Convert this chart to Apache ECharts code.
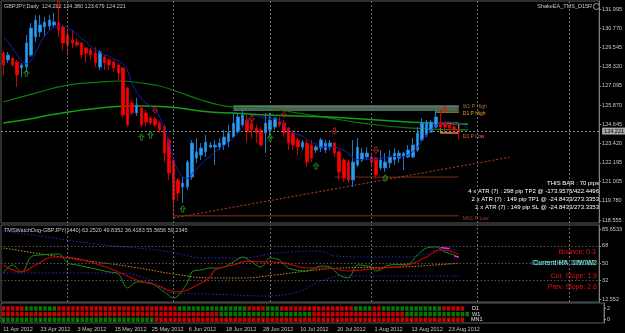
<!DOCTYPE html>
<html><head><meta charset="utf-8">
<script src="https://cdn.jsdelivr.net/npm/echarts@6/dist/echarts.min.js"></script>
<style>html,body{margin:0;padding:0;background:#000;overflow:hidden}#c{width:625px;height:333px}</style>
</head><body><div id="c"></div>
<script>
// ---------------- DATA ----------------
const MONTHS = ['Jan','Feb','Mar','Apr','May','Jun','Jul','Aug','Sep','Oct','Nov','Dec'];
const firstDay = [2012, 3, 11];       // 11 Apr 2012
const barCount = 130;                 // incl. empty right margin
const lastBar = 99;                   // 28 Aug 2012

const opens  = [129.19,128.75,128.87,128.62,128.24,128.30,129.06,130.21,130.53,130.85,130.91,130.98,131.10,130.85,130.34,130.02,129.89,129.83,129.51,129.38,129.19,128.30,128.94,128.75,128.62,128.43,128.24,126.96,126.01,125.37,125.69,125.37,125.05,124.99,124.73,124.48,123.65,122.38,121.10,120.66,120.66,121.29,122.50,122.69,122.89,123.20,123.20,123.20,123.33,123.52,123.84,124.16,124.61,124.92,124.73,124.41,124.29,124.10,124.29,124.48,124.80,124.73,124.41,124.10,123.65,123.20,123.46,123.33,123.01,123.14,123.01,123.20,123.46,122.89,122.38,122.25,121.10,122.06,122.38,122.57,122.57,122.50,121.87,121.87,122.19,122.38,122.50,122.57,122.57,122.57,123.01,123.65,123.97,124.16,124.48,124.80,124.73,124.61,124.48,124.282];
const highs  = [129.32,129.26,128.94,128.75,128.56,130.34,131.10,131.61,131.61,131.49,131.61,131.74,132.25,130.98,130.66,130.66,130.15,129.89,129.57,129.51,129.57,129.38,129.06,128.87,128.75,128.56,128.30,127.03,126.20,126.33,125.88,125.56,125.18,125.12,124.86,124.61,123.78,122.57,121.23,121.29,122.38,123.65,123.78,123.46,123.97,123.52,123.65,123.78,124.29,124.61,125.37,125.37,125.69,125.24,124.92,124.61,124.48,125.37,125.37,125.12,125.12,124.92,124.48,124.29,123.78,123.65,123.65,123.65,123.33,123.78,123.65,123.65,123.52,123.01,122.50,122.38,123.65,123.78,123.14,123.20,122.82,122.57,123.01,122.82,123.01,123.14,123.01,122.89,123.33,123.78,124.48,125.05,124.92,124.92,125.56,125.56,124.80,124.73,124.61,124.380];
const lows   = [127.79,128.56,128.30,127.03,127.66,127.98,128.94,129.89,130.21,130.21,130.66,130.85,130.21,129.38,129.06,129.51,129.57,128.87,128.56,128.75,128.30,128.11,128.11,128.11,127.98,127.47,125.05,124.48,125.24,125.18,124.48,124.54,124.61,124.48,124.10,122.25,121.10,118.68,119.76,119.64,120.47,121.10,122.19,122.38,122.57,123.14,122.06,123.01,123.01,123.20,123.78,124.10,124.48,123.52,123.78,123.46,123.20,122.82,123.84,124.29,124.48,123.84,123.01,123.01,122.69,123.01,121.93,122.25,122.82,122.89,122.82,123.01,122.57,121.10,120.98,120.91,120.66,121.93,122.25,122.38,122.06,121.23,121.74,121.61,121.87,122.06,122.19,121.74,122.50,122.50,122.89,123.52,123.84,124.10,124.41,124.41,124.16,124.16,124.10,123.679];
const closes = [128.43,129.06,128.43,127.79,128.43,129.83,130.78,131.29,130.98,131.17,131.29,131.17,130.66,129.83,129.70,129.83,129.70,129.06,129.19,129.06,128.56,129.26,128.56,128.43,128.24,127.92,125.24,124.61,125.37,125.88,124.61,124.80,124.73,124.61,124.29,122.82,121.55,119.83,120.27,120.91,122.25,123.46,122.89,123.14,123.52,123.33,123.33,123.46,123.84,124.10,124.73,125.12,125.24,124.16,124.29,124.10,123.33,124.73,124.92,125.05,124.61,124.10,123.46,123.33,123.20,123.52,122.25,122.50,123.20,123.65,123.46,123.46,122.82,121.61,121.23,121.10,122.25,123.20,122.82,122.82,122.25,121.42,122.38,122.25,122.57,122.82,122.82,122.82,123.01,123.33,124.10,124.73,124.80,124.80,125.12,124.48,124.48,124.41,124.29,124.221];

// blue short moving average (one value per bar, runs 2 bars past the last candle)
const maBlue = [130.2,129.9,129.5,129.1,128.7,128.5,128.7,129.2,129.8,130.3,130.6,130.8,130.9,130.9,130.8,130.6,130.4,130.1,129.9,129.6,129.4,129.2,129.1,129.0,128.8,128.7,128.5,128.1,127.2,126.7,126.3,126.0,125.8,125.6,125.1,124.4,123.5,122.4,121.7,121.3,121.2,121.5,121.8,122.1,122.4,122.6,122.9,123.1,123.3,123.5,123.8,124.1,124.5,124.9,125.2,125.2,125.1,125.1,125.0,125.0,124.9,124.6,124.3,124.1,124.0,123.9,123.7,123.5,123.4,123.2,123.2,123.2,123.2,123.1,123.0,122.8,122.5,122.4,122.4,122.4,122.4,122.4,122.5,122.5,122.6,122.6,122.6,122.6,122.7,122.9,123.2,123.6,124.0,124.3,124.6,124.7,124.8,124.8,124.7,124.7,124.6,124.4];
// long green averages, read at [bar, price]
const maGreenA = [[0,126.07],[7,126.64],[14,127.15],[21,127.34],[25,127.41],[30,127.28],[34,127.09],[38,126.71],[43,126.20],[47,125.88],[50,125.75],[57,125.69],[64,125.37],[71,125.05],[78,124.73],[88,124.42],[101,124.30]];
const maGreenB = [[0,124.73],[7,125.05],[10,125.24],[21,125.69],[30,125.82],[36,125.75],[45,125.43],[50,125.37],[57,125.24],[71,125.12],[88,124.80],[101,124.65]];

const trendLine = [[37,118.68],[110,122.55]];
const zoneW1High = [50, 99, 125.82, 125.50];     // from bar, to bar, top, bottom
const boxD1 = [95, 99, 124.73, 124.10];
const levelW1High = 125.82, levelD1High = 125.43, levelD1Low = 124.10, levelMN1Low = 118.82, levelW1Low = 121.29;
const bidPrice = 124.221;

const arrowsUp   = [[5,127.90],[30,123.84],[32,123.97],[39,119.26],[58,123.78],[68,121.99],[83,121.23]];
const arrowsDown = [[12,132.30],[33,125.56],[54,125.00],[61,125.31],[72,124.22],[81,123.01],[96,125.60]];

const priceTicks = [131.995,130.770,129.545,128.320,127.095,125.870,124.645,123.420,122.195,121.005,119.780,118.555];

// TMS WatchDog indicator, read at [bar, value]
const wdUpper = [[0,83.6],[10,77.0],[20,70.0],[35,62.7],[44,55.4],[52,55.4],[58,59.6],[62,61.6],[69,62.7],[72,57.5],[80,56.4],[87,56.4],[92,59.6],[94,63.7],[99,63.25]];
const wdLower = [[0,39.7],[25,39.7],[32,32.4],[37,18.8],[45,17.8],[57,15.7],[64,19.9],[68,29.3],[71,34.5],[73,36.6],[85,36.6],[99,36.42]];
const wdMid   = [[0,65.8],[14,55.4],[28,46.0],[37,38.7],[45,34.5],[52,34.5],[59,37.6],[66,41.8],[73,44.9],[87,46.0],[95,48.5],[99,49.84]];
const wdFast  = [[0,39.7],[2,48.1],[4,40.8],[6,56.4],[8,58.5],[12,59.6],[14,50.2],[16,48.1],[19,44.9],[23,40.8],[25,38.7],[27,24.1],[29,30.3],[32,29.3],[35,19.9],[37,13.6],[40,29.3],[41,40.8],[43,42.9],[45,44.9],[47,44.9],[50,51.2],[52,56.4],[54,51.2],[56,46.0],[58,55.4],[60,53.3],[62,44.9],[66,41.8],[69,47.0],[71,46.0],[73,37.6],[75,34.5],[77,48.1],[80,46.0],[81,41.8],[84,48.1],[88,49.1],[90,58.5],[92,65.8],[94,66.9],[96,61.6],[98,58.5],[99,55.57]];
const wdSlow  = [[0,48.1],[4,40.8],[7,48.1],[11,56.4],[15,55.4],[21,48.1],[25,40.8],[29,32.4],[33,27.2],[38,19.9],[40,22.0],[43,29.3],[45,35.5],[46,42.9],[50,48.1],[53,52.2],[57,51.2],[61,50.2],[66,44.9],[71,44.9],[75,41.8],[80,43.9],[85,46.0],[88,48.1],[92,56.4],[95,63.7],[97,62.7],[99,59.23]];
const wdMagentaA = [[95,66.3],[97,65.3]];
const wdMagentaB = [[98,57.6],[99,56.4]];
const wdLevels = [68, 50, 32];
const wdTicks = [85.6533, 68, 50, 32, 12.552];

// D1 / W1 / MN1 trend squares: g = up, r = down
const rowD1  = 'rrrrrgggggggrrrrrrrrrrrrrrrrrrrrrrrrrrgggggggggggggggrrrrgggrrrrrrrrrrrrrrrrggggrrgggggggggggggrrrrr';
const rowW1  = 'rrrrrrrrrrrrrrrrrrrrrrrrrrrrrrrrrrrrrrrrrrrrrrrggggggggggggggggggggrrrrrrrrrrrrrrrrrrrrgggggggggggggg';
const rowMN1 = 'gggggggggggggggggggggggggggggggggrrrrrrrrrrrrrrrrrrrrrrrrrrrrrrrrrrrrrrrrrrrrrrrrrrrrrrrrrrrrrrrrrrr';
const rowNames = ['D1','W1','MN1'];

// ---------------- BUILD ----------------
const dates = [];
const monthStarts = [];
{
  const d = new Date(Date.UTC(firstDay[0], firstDay[1], firstDay[2]));
  let prevMonth = d.getUTCMonth();
  while (dates.length < barCount) {
    const wd = d.getUTCDay();
    if (wd !== 0 && wd !== 6) {
      if (d.getUTCMonth() !== prevMonth) { monthStarts.push(dates.length); prevMonth = d.getUTCMonth(); }
      dates.push(d.getUTCDate() + ' ' + MONTHS[d.getUTCMonth()] + ' ' + d.getUTCFullYear());
    }
    d.setUTCDate(d.getUTCDate() + 1);
  }
}
const candles = opens.map((o, i) => [o, closes[i], lows[i], highs[i]]);
const squares = [];
[rowD1, rowW1, rowMN1].forEach((row, r) => {
  for (let i = 0; i < row.length; i++) {
    squares.push({ value: [i, 2 - r], itemStyle: { color: row[i] === 'g' ? '#009a00' : '#ff0000' } });
  }
});

const FONT = '"Liberation Sans", Arial, sans-serif';
const TXT = '#c8c8c8';
const sepLine = { symbol: 'none', silent: true, label: { show: false },
  lineStyle: { color: '#6a6a6a', type: [2, 2], width: 1 },
  data: monthStarts.map(i => ({ xAxis: i })) };

const xBase = (gi, show) => ({
  type: 'category', gridIndex: gi, data: dates, boundaryGap: true,
  axisLine: { show: false }, splitLine: { show: false },
  axisTick: { show: show, alignWithLabel: true, length: 2, lineStyle: { color: '#909090' },
    interval: (idx) => idx % 8 === 0 && idx <= lastBar },
  axisLabel: { show: show, color: TXT, fontSize: 5.5, fontFamily: FONT, align: 'left', margin: 3,
    interval: (idx) => idx % 8 === 0 && idx <= lastBar }
});
const yBase = (gi, min, max, ticks, fmt) => ({
  type: 'value', gridIndex: gi, position: 'right', min: min, max: max, scale: true,
  splitLine: { show: false },
  axisLine: { show: true, lineStyle: { color: '#808080' } },
  axisTick: { show: true, length: 2, lineStyle: { color: '#909090' }, customValues: ticks },
  axisLabel: { color: TXT, fontSize: 5.5, fontFamily: FONT, margin: 3, customValues: ticks, formatter: fmt }
});

const levelSeries = (name, data, color, label, labelColor, dy) => ({
  type: 'line', name: name, xAxisIndex: 0, yAxisIndex: 0, data: data, symbol: 'none', silent: true,
  lineStyle: { color: color, width: 1 }, z: 3,
  endLabel: label ? { show: true, formatter: label, color: labelColor, fontSize: 5, fontFamily: FONT, distance: 4, offset: [0, dy] } : { show: false }
});

const upArrow = 'path://M5,0 L10,5 L7,5 L7,11 L3,11 L3,5 L0,5 Z';
const downArrow = 'path://M3,0 L7,0 L7,6 L10,6 L5,11 L0,6 L3,6 Z';

const option = {
  backgroundColor: '#000',
  animation: false,
  grid: [
    { left: 1, right: 21, top: 1, height: 222, show: true, borderColor: '#5a5a5a', borderWidth: 1, backgroundColor: '#000' },
    { left: 1, right: 21, top: 225, height: 77, show: true, borderColor: '#5a5a5a', borderWidth: 1, backgroundColor: '#000' },
    { left: 1, right: 21, top: 303, height: 20, show: true, borderColor: '#5a5a5a', borderWidth: 1, backgroundColor: '#000' }
  ],
  xAxis: [xBase(0, false), xBase(1, false), xBase(2, true)],
  yAxis: [
    yBase(0, 118.364, 132.505, priceTicks, v => v.toFixed(3)),
    yBase(1, 9.419, 89.83, wdTicks, v => String(v)),
    yBase(2, -0.59, 2.98, [0, 2], v => String(v))
  ],
  series: [
    { type: 'line', name: 'MA long A', xAxisIndex: 0, yAxisIndex: 0, data: maGreenA, smooth: 0.5, symbol: 'none', lineStyle: { color: '#0a7d0a', width: 1.2 }, z: 2 },
    { type: 'line', name: 'MA long B', xAxisIndex: 0, yAxisIndex: 0, data: maGreenB, smooth: 0.5, symbol: 'none', lineStyle: { color: '#12a012', width: 1.5 }, z: 2 },
    levelSeries('W1 P Low', [[72, levelW1Low], [lastBar, levelW1Low]], '#7a2a1a', null),
    levelSeries('MN1 P Low', [[37, levelMN1Low], [lastBar, levelMN1Low]], '#8a2c1c', 'MN1 P Low', '#a0402a', 3),
    levelSeries('W1 P High', [[50, levelW1High], [lastBar, levelW1High]], '#7f9a88', 'W1 P High', '#b06a3a', 1),
    levelSeries('D1 P High', [[94, levelD1High], [lastBar, levelD1High]], '#d8c830', 'D1 P High', '#e0a030', 2),
    levelSeries('D1 P Low', [[95, levelD1Low], [lastBar, levelD1Low]], '#e07a50', 'D1 P Low', '#e07040', 4),
    { type: 'line', name: 'trend', xAxisIndex: 0, yAxisIndex: 0, data: trendLine, symbol: 'none', silent: true, lineStyle: { color: '#c0401c', width: 1, type: [2, 2] }, z: 3 },
    {
      type: 'candlestick', name: 'GBPJPY', xAxisIndex: 0, yAxisIndex: 0, data: candles, barWidth: 3, z: 4,
      itemStyle: { color: '#2c9fe8', color0: '#ff0000', borderColor: '#1a78c8', borderColor0: '#d00000', borderWidth: 1 },
      markArea: { silent: true, data: [
        [{ xAxis: zoneW1High[0], yAxis: zoneW1High[2], itemStyle: { color: '#4f6c5c', opacity: 0.95 } }, { xAxis: zoneW1High[1], yAxis: zoneW1High[3] }],
        [{ xAxis: boxD1[0], yAxis: boxD1[2], itemStyle: { color: 'rgba(0,0,0,0)', borderColor: '#e9967a', borderWidth: 1 } }, { xAxis: boxD1[1], yAxis: boxD1[3] }]
      ] },
      markLine: { symbol: 'none', silent: true, data: [
        ...monthStarts.map(i => ({ xAxis: i, label: { show: false }, lineStyle: { color: '#6a6a6a', type: [2, 2], width: 1 } })),
        { yAxis: bidPrice, lineStyle: { color: '#8a8a8a', type: [2, 2], width: 1 },
          label: { show: true, position: 'end', formatter: bidPrice.toFixed(3), color: '#000', backgroundColor: '#a8a8a8', fontSize: 5.5, fontFamily: FONT, padding: [1, 2, 0, 2], distance: 3 } }
      ] }
    },
    { type: 'line', name: 'MA blue', xAxisIndex: 0, yAxisIndex: 0, data: maBlue, smooth: 0.3, symbol: 'none', lineStyle: { color: '#1c1cb4', width: 1 }, z: 5 },
    { type: 'scatter', name: 'up', xAxisIndex: 0, yAxisIndex: 0, data: arrowsUp, symbol: upArrow, symbolSize: [5, 6], z: 6,
      itemStyle: { color: 'rgba(0,0,0,0)', borderColor: '#1f9a1f', borderWidth: 1 } },
    { type: 'scatter', name: 'down', xAxisIndex: 0, yAxisIndex: 0, data: arrowsDown, symbol: downArrow, symbolSize: [5, 6], z: 6,
      itemStyle: { color: 'rgba(0,0,0,0)', borderColor: '#c02020', borderWidth: 1 } },

    // WatchDog panel
    { type: 'line', name: 'upper', xAxisIndex: 1, yAxisIndex: 1, data: wdUpper, smooth: 0.4, symbol: 'none', lineStyle: { color: '#2a2ad0', width: 1, type: [1.5, 2] },
      markLine: { symbol: 'none', silent: true, label: { show: false }, lineStyle: { color: '#555', type: [1.5, 2], width: 1 },
        data: [...wdLevels.map(v => ({ yAxis: v })), ...monthStarts.map(i => ({ xAxis: i, lineStyle: { color: '#6a6a6a', type: [2, 2] } }))] } },
    { type: 'line', name: 'lower', xAxisIndex: 1, yAxisIndex: 1, data: wdLower, smooth: 0.4, symbol: 'none', lineStyle: { color: '#2a2ad0', width: 1, type: [1.5, 2] } },
    { type: 'line', name: 'mid', xAxisIndex: 1, yAxisIndex: 1, data: wdMid, smooth: 0.4, symbol: 'none', lineStyle: { color: '#d08a30', width: 1, type: [1.5, 1.5] } },
    { type: 'line', name: 'fast', xAxisIndex: 1, yAxisIndex: 1, data: wdFast, smooth: 0.35, symbol: 'none', lineStyle: { color: '#1a8c1a', width: 1 } },
    { type: 'line', name: 'slow', xAxisIndex: 1, yAxisIndex: 1, data: wdSlow, smooth: 0.4, symbol: 'none', lineStyle: { color: '#c40000', width: 1.2 } },
    { type: 'line', name: 'magA', xAxisIndex: 1, yAxisIndex: 1, data: wdMagentaA, symbol: 'none', lineStyle: { color: '#ff30ff', width: 1.3 } },
    { type: 'line', name: 'magB', xAxisIndex: 1, yAxisIndex: 1, data: wdMagentaB, symbol: 'none', lineStyle: { color: '#ff30ff', width: 1.3 } },

    // trend squares
    { type: 'scatter', name: 'rows', xAxisIndex: 2, yAxisIndex: 2, data: squares, symbol: 'rect', symbolSize: [3.4, 4.4], silent: true }
  ],
  graphic: [
    { type: 'text', x: 4, y: 6, style: { text: 'GBPJPY,Daily  124.282 124.380 123.679 124.221', fill: TXT, font: '5.5px ' + FONT, verticalAlign: 'middle' } },
    { type: 'text', x: 592, y: 6, style: { text: 'ShakeEA_TMS_D15R', fill: TXT, font: '5.5px ' + FONT, align: 'right', verticalAlign: 'middle' } },
    { type: 'circle', shape: { cx: 596.5, cy: 6.5, r: 3 }, style: { fill: 'none', stroke: TXT, lineWidth: 0.8 } },
    { type: 'text', x: 599, y: 183, style: { text: 'THIS BAR : 70 pips', fill: '#fff', font: '6px ' + FONT, align: 'right', verticalAlign: 'middle' } },
    { type: 'text', x: 599, y: 191, style: { text: '4 x ATR (7) : 298 pip TP2 @ -173.9576/422.4496', fill: '#fff', font: '6px ' + FONT, align: 'right', verticalAlign: 'middle' } },
    { type: 'text', x: 599, y: 199, style: { text: '2 x ATR (7) : 149 pip TP1 @ -24.8433/273.3353', fill: '#fff', font: '6px ' + FONT, align: 'right', verticalAlign: 'middle' } },
    { type: 'text', x: 599, y: 207, style: { text: '2 x ATR (7) : 149 pip SL @ -24.8433/273.3353', fill: '#fff', font: '6px ' + FONT, align: 'right', verticalAlign: 'middle' } },
    { type: 'text', x: 4, y: 230, style: { text: 'TMSWatchDog-GBPJPY(1440) 63.2520 49.8352 36.4183 55.5656 59.2345', fill: TXT, font: '5.5px ' + FONT, verticalAlign: 'middle' } },
    { type: 'text', x: 596, y: 252, style: { text: 'Bounce: 0.3', fill: '#e81010', font: '7px ' + FONT, align: 'right', verticalAlign: 'middle' } },
    { type: 'text', x: 597, y: 263.5, style: { text: 'Current HA: 1/W/W2', fill: '#e8e8e8', font: '7px ' + FONT, align: 'right', verticalAlign: 'middle' } },
    { type: 'text', x: 595, y: 263.5, style: { text: 'Current HA: 1/W/W2', fill: '#18c8c8', font: '7px ' + FONT, align: 'right', verticalAlign: 'middle' } },
    { type: 'text', x: 597, y: 276, style: { text: 'Cur. Slope: 1.9', fill: '#e81010', font: '7px ' + FONT, align: 'right', verticalAlign: 'middle' } },
    { type: 'text', x: 597, y: 287, style: { text: 'Prev. Slope: 2.6', fill: '#e81010', font: '7px ' + FONT, align: 'right', verticalAlign: 'middle' } },
    { type: 'text', x: 472, y: 308.5, style: { text: rowNames[0], fill: '#e8e8e8', font: '5.5px ' + FONT, verticalAlign: 'middle' } },
    { type: 'text', x: 472, y: 314, style: { text: rowNames[1], fill: '#e8e8e8', font: '5.5px ' + FONT, verticalAlign: 'middle' } },
    { type: 'text', x: 471, y: 319.7, style: { text: rowNames[2], fill: '#e8e8e8', font: '5.5px ' + FONT, verticalAlign: 'middle' } }
  ]
};
const chart = echarts.init(document.getElementById('c'), null, { renderer: 'canvas' });
chart.setOption(option);
</script>
</body></html>
